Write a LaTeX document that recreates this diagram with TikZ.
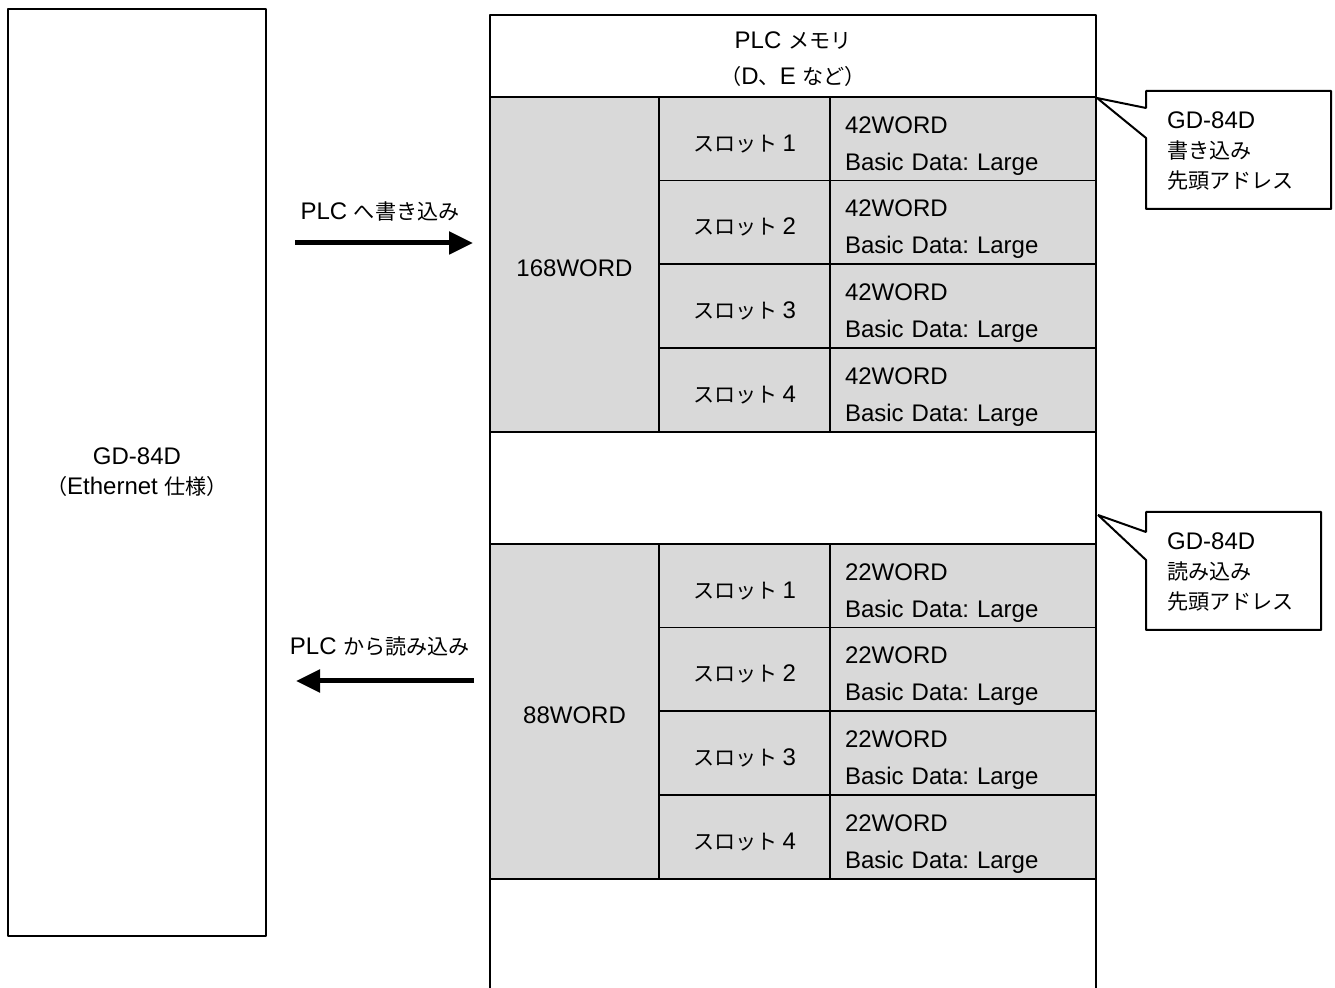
\documentclass[tikz,border=0pt]{standalone}
\usepackage{fontspec}
\setmainfont{Liberation Sans}
\newfontfamily\jpfont{Noto Sans CJK JP}[Scale=0.88]
\usetikzlibrary{arrows.meta}
\definecolor{cellgray}{RGB}{217,217,217}
\frenchspacing

\begin{document}
\begin{tikzpicture}[>=latex,line join=bevel,
  font=\fontsize{24bp}{30bp}\selectfont,
  cell/.style={draw,fill=cellgray,line width=1.8bp,inner sep=0bp},
  sumcell/.style={cell,minimum width=169bp,minimum height=335bp,text height=30bp,text depth=5bp},
  slotcell/.style={cell,minimum width=171bp,minimum height=84bp,text height=30bp,text depth=5bp},
  datacell/.style={cell,minimum width=266bp,minimum height=84bp,text width=236bp,inner xsep=15bp,align=left,text height=20bp,text depth=31bp,font=\fontsize{24bp}{37bp}\selectfont},
  callout/.style={draw,fill=white,line width=2bp},
  bigarrow/.style={line width=5bp,-{Triangle[length=24bp,width=22bp]}},
]
\useasboundingbox (0bp,0bp) rectangle (1335bp,988bp);
%%
\node (gd84d) at (137bp,515.5bp) [draw,line width=2bp,minimum width=258bp,minimum height=927bp,align=center] {GD-84D\\{\jpfont （}Ethernet {\jpfont 仕様）}};
\draw [line width=2bp] (490bp,0bp) -- (490bp,973bp) -- (1096bp,973bp) -- (1096bp,0bp);
\node (plc_mem) at (793bp,928.5bp) [align=center,font=\fontsize{24bp}{36bp}\selectfont] {PLC {\jpfont メモリ}\\{\jpfont （}D{\jpfont 、}E {\jpfont など）}};
%% write area
\node (wr_sum) at (574.5bp,723.5bp) [sumcell] {168WORD};
  \node (wr_slot_1) at (744.5bp,849bp) [slotcell] {{\jpfont スロット}\hspace{5bp}1};
  \node (wr_data_1) at (963bp,849bp) [datacell] {42WORD\\Basic Data: Large};
  \node (wr_slot_2) at (744.5bp,765.5bp) [slotcell] {{\jpfont スロット}\hspace{5bp}2};
  \node (wr_data_2) at (963bp,765.5bp) [datacell] {42WORD\\Basic Data: Large};
  \node (wr_slot_3) at (744.5bp,682bp) [slotcell] {{\jpfont スロット}\hspace{5bp}3};
  \node (wr_data_3) at (963bp,682bp) [datacell] {42WORD\\Basic Data: Large};
  \node (wr_slot_4) at (744.5bp,598bp) [slotcell] {{\jpfont スロット}\hspace{5bp}4};
  \node (wr_data_4) at (963bp,598bp) [datacell] {42WORD\\Basic Data: Large};
%% read area
\node (rd_sum) at (574.5bp,276.5bp) [sumcell] {88WORD};
  \node (rd_slot_1) at (744.5bp,402bp) [slotcell] {{\jpfont スロット}\hspace{5bp}1};
  \node (rd_data_1) at (963bp,402bp) [datacell] {22WORD\\Basic Data: Large};
  \node (rd_slot_2) at (744.5bp,318.5bp) [slotcell] {{\jpfont スロット}\hspace{5bp}2};
  \node (rd_data_2) at (963bp,318.5bp) [datacell] {22WORD\\Basic Data: Large};
  \node (rd_slot_3) at (744.5bp,235bp) [slotcell] {{\jpfont スロット}\hspace{5bp}3};
  \node (rd_data_3) at (963bp,235bp) [datacell] {22WORD\\Basic Data: Large};
  \node (rd_slot_4) at (744.5bp,151bp) [slotcell] {{\jpfont スロット}\hspace{5bp}4};
  \node (rd_data_4) at (963bp,151bp) [datacell] {22WORD\\Basic Data: Large};
%% arrows
\coordinate (wr_start) at (295bp,745bp);
\coordinate (wr_end) at (473bp,745bp);
\coordinate (rd_start) at (474bp,307bp);
\coordinate (rd_end) at (296bp,307bp);
\node (wr_label) at (380bp,777bp) {PLC {\jpfont へ書き込み}};
\node (rd_label) at (380bp,342bp) {PLC {\jpfont から読み込み}};
\draw [bigarrow] (wr_start) -- (wr_end);
\draw [bigarrow] (rd_start) -- (rd_end);
%% callouts
\draw [callout] (1146bp,897bp) -- (1331bp,897bp) -- (1331bp,779bp) -- (1146bp,779bp) -- (1146bp,850bp) -- (1097bp,890bp) -- (1146bp,880bp) -- cycle;
\node (wr_note) at (1167bp,837bp) [anchor=west,align=left,inner sep=0bp] {GD-84D\\{\jpfont 書き込み}\\{\jpfont 先頭アドレス}};
\draw [callout] (1146bp,476bp) -- (1321bp,476bp) -- (1321bp,358bp) -- (1146bp,358bp) -- (1146bp,428bp) -- (1098bp,473bp) -- (1146bp,456bp) -- cycle;
\node (rd_note) at (1167bp,416bp) [anchor=west,align=left,inner sep=0bp] {GD-84D\\{\jpfont 読み込み}\\{\jpfont 先頭アドレス}};
%
\end{tikzpicture}
\end{document}
